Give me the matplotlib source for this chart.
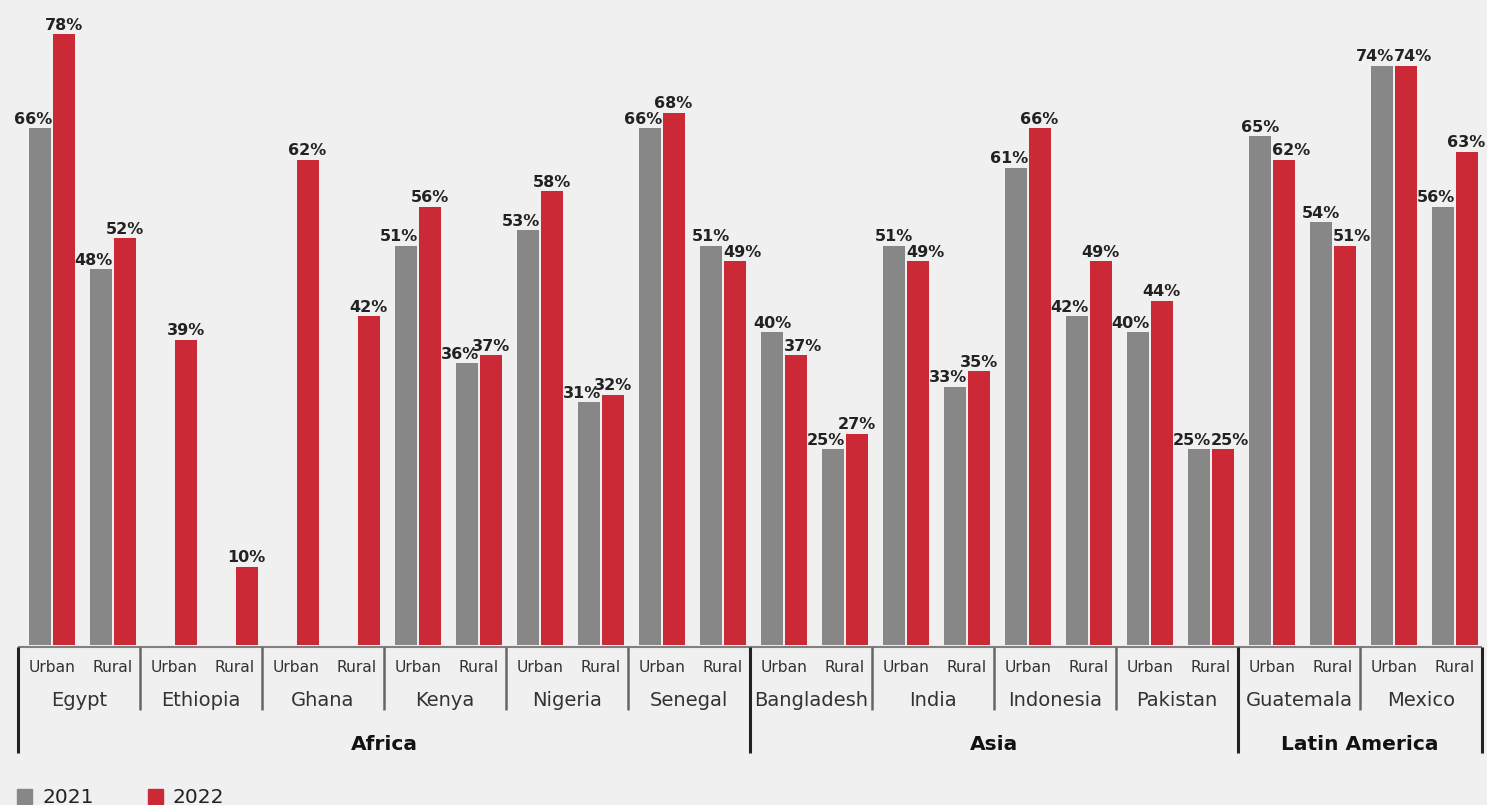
import numpy as np
import matplotlib.pyplot as plt
from matplotlib.patches import Rectangle
from matplotlib.transforms import blended_transform_factory

plt.rcParams['font.family'] = ['DejaVu Sans']

countries = ['Egypt', 'Ethiopia', 'Ghana', 'Kenya', 'Nigeria', 'Senegal',
             'Bangladesh', 'India', 'Indonesia', 'Pakistan', 'Guatemala', 'Mexico']
regions = ['Africa', 'Asia', 'Latin America']
region_sizes = [6, 4, 2]
areas = ['Urban', 'Rural']
years = ['2021', '2022']

nan = np.nan
urban_2021 = [66, nan, nan, 51, 53, 66, 40, 51, 61, 40, 65, 74]
urban_2022 = [78, 39, 62, 56, 58, 68, 37, 49, 66, 44, 62, 74]
rural_2021 = [48, nan, nan, 36, 31, 51, 25, 33, 42, 25, 54, 56]
rural_2022 = [52, 10, 42, 37, 32, 49, 27, 35, 49, 25, 51, 63]

GRAY = '#878787'
RED = '#cc2936'
BG = '#f0f0f0'
W, H = 1487, 805

fig = plt.figure(figsize=(W / 100, H / 100), dpi=100, facecolor=BG)
ax = fig.add_axes([18 / W, (H - 645) / H, 1464 / W, 645 / H])
ax.set_facecolor(BG)
ax.set_xlim(-0.557, 23.443)
ax.set_ylim(0, 82.4)
ax.axis('off')

# one slot per country/area pair: Egypt-Urban, Egypt-Rural, Ethiopia-Urban, ...
v21 = np.column_stack([urban_2021, rural_2021]).ravel()
v22 = np.column_stack([urban_2022, rural_2022]).ravel()
slots = np.arange(len(v21))
bw = 0.36
off = 0.19

ax.bar(slots - off, np.nan_to_num(v21), width=bw, color=GRAY)
ax.bar(slots + off, v22, width=bw, color=RED)


def put_label(x, v, ha):
    ax.annotate(f'{v:.0f}%', (x, v), xytext=(0, 1), textcoords='offset points',
                ha=ha, va='bottom', fontsize=11.5, fontweight='bold', color='#222222')


# the lower bar of each pair gets its label pushed out to the side
for i in slots:
    a, b = v21[i], v22[i]
    if not np.isnan(a):
        if a > b:
            put_label(i - off, a, 'center')
        else:
            put_label(i, a, 'right')
    if np.isnan(a) or b > a:
        put_label(i + off, b, 'center')
    else:
        put_label(i, b, 'left')

# category axis below the bars
tr = blended_transform_factory(ax.transData, fig.transFigure)


def fy(px):
    return (H - px) / H


x0, x1 = ax.get_xlim()
ax.plot([x0, x1], [fy(647), fy(647)], transform=tr, color='#808080', lw=1.5,
        clip_on=False, solid_capstyle='butt')

for i in slots:
    ax.text(i, fy(667), areas[i % 2], transform=tr, ha='center', va='center',
            fontsize=11.2, color='#333333')

for k, name in enumerate(countries):
    ax.text(x0 + 2 * k + 1, fy(700), name, transform=tr, ha='center', va='center',
            fontsize=14, color='#333333')

region_edges = np.concatenate([[0], np.cumsum(region_sizes)])
for k in range(len(countries) + 1):
    xb = x0 + 2 * k
    if k in region_edges:
        ax.plot([xb, xb], [fy(647), fy(753)], transform=tr, color='#222222', lw=2.2,
                clip_on=False, solid_capstyle='butt')
    else:
        ax.plot([xb, xb], [fy(647), fy(710)], transform=tr, color='#666666', lw=1.8,
                clip_on=False, solid_capstyle='butt')

for r, name in enumerate(regions):
    xc = x0 + region_edges[r] * 2 + region_sizes[r]
    ax.text(xc, fy(744), name, transform=tr, ha='center', va='center',
            fontsize=14.5, fontweight='bold', color='#111111')

# legend
for (xs, xt), color, label in zip([(17, 42), (148, 173)], [GRAY, RED], years):
    fig.patches.append(Rectangle((xs / W, fy(804)), 15 / W, 15 / H, color=color,
                                 transform=fig.transFigure, figure=fig))
    fig.text(xt / W, fy(797), label, ha='left', va='center', fontsize=14.5, color='#222222')

fig.savefig('out.png', dpi=100, facecolor=BG)
